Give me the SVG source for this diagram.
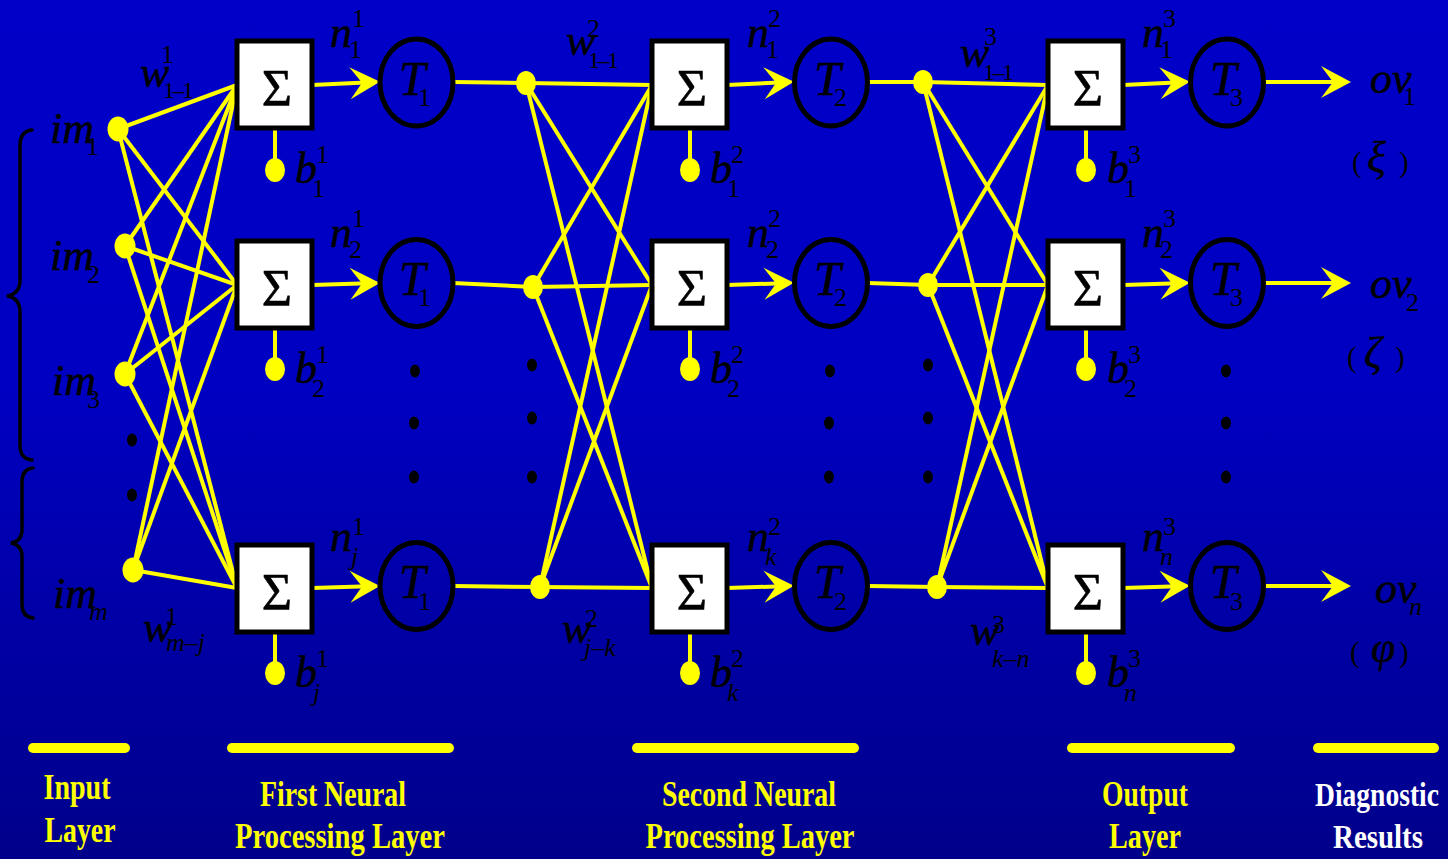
<svg xmlns="http://www.w3.org/2000/svg" width="1448" height="859" viewBox="0 0 1448 859">
  <defs>
    <linearGradient id="bg" x1="0" y1="0" x2="0" y2="1">
      <stop offset="0" stop-color="#0000C8"/>
      <stop offset="0.45" stop-color="#0000C2"/>
      <stop offset="1" stop-color="#00008A"/>
    </linearGradient>
    <marker id="arr" markerUnits="userSpaceOnUse" markerWidth="34" markerHeight="34" viewBox="0 0 34 34" refX="29" refY="17" orient="auto">
      <path d="M33 17 L3 1 L15 17 L3 33 Z" fill="#FFFF00"/>
    </marker>
    <style>
      .w { stroke: #FFFF00; stroke-width: 4; fill: none; }
      .box { fill: #FFFFFF; stroke: #000; stroke-width: 5; }
      .neu { fill: none; stroke: #000; stroke-width: 5; }
      .yd { fill: #FFFF00; }
      .kd { fill: #000; }
      .brace { fill: none; stroke: #000; stroke-width: 3.5; stroke-linecap: round; }
      .bar { stroke: #FFFF00; stroke-width: 10; stroke-linecap: round; }
      text { font-family: "Liberation Serif", "Times New Roman", serif; fill: #000; }
      .v { font-style: italic; font-size: 44px; stroke: #000; stroke-width: 0.5; }
      .t { font-style: italic; font-size: 48px; stroke: #000; stroke-width: 0.5; }
      .d { font-style: normal; font-size: 26px; stroke: none; }
      .dd { font-style: normal; font-size: 24px; letter-spacing: -2.5px; stroke: none; }
      .l { font-style: italic; font-size: 26px; stroke: none; }
      .sig { font-size: 52px; text-anchor: middle; stroke: #000; stroke-width: 0.6; }
      .p { font-size: 29px; }
      .g { font-style: italic; font-size: 44px; stroke: #000; stroke-width: 0.4; }
      .lab { font-weight: bold; font-size: 35px; fill: #FFFF00; text-anchor: middle; }
      .res { font-weight: bold; font-size: 34px; fill: #FFFFFF; text-anchor: middle; }
    </style>
  </defs>

  <rect x="0" y="0" width="1448" height="859" fill="url(#bg)"/>

  <!-- connectors -->
  <g id="connectors">
    <!-- input layer to first layer summers -->
    <line class="w" x1="118" y1="129" x2="237" y2="85"/>
    <line class="w" x1="118" y1="129" x2="237" y2="285"/>
    <line class="w" x1="118" y1="129" x2="237" y2="588"/>
    <line class="w" x1="125" y1="246" x2="237" y2="85"/>
    <line class="w" x1="125" y1="246" x2="237" y2="285"/>
    <line class="w" x1="125" y1="246" x2="237" y2="588"/>
    <line class="w" x1="125" y1="374" x2="237" y2="85"/>
    <line class="w" x1="125" y1="374" x2="237" y2="285"/>
    <line class="w" x1="125" y1="374" x2="237" y2="588"/>
    <line class="w" x1="133" y1="570" x2="237" y2="85"/>
    <line class="w" x1="133" y1="570" x2="237" y2="285"/>
    <line class="w" x1="133" y1="570" x2="237" y2="588"/>

    <!-- first layer outputs to second layer nodes -->
    <line class="w" x1="453" y1="82" x2="526" y2="83"/>
    <line class="w" x1="453" y1="283" x2="533" y2="287"/>
    <line class="w" x1="453" y1="586" x2="540" y2="587"/>
    <line class="w" x1="526" y1="83" x2="652" y2="85"/>
    <line class="w" x1="526" y1="83" x2="652" y2="285"/>
    <line class="w" x1="526" y1="83" x2="652" y2="588"/>
    <line class="w" x1="533" y1="287" x2="652" y2="85"/>
    <line class="w" x1="533" y1="287" x2="652" y2="285"/>
    <line class="w" x1="533" y1="287" x2="652" y2="588"/>
    <line class="w" x1="540" y1="587" x2="652" y2="85"/>
    <line class="w" x1="540" y1="587" x2="652" y2="285"/>
    <line class="w" x1="540" y1="587" x2="652" y2="588"/>

    <!-- second layer outputs to output layer nodes -->
    <line class="w" x1="868" y1="82" x2="923" y2="82"/>
    <line class="w" x1="868" y1="283" x2="928" y2="285"/>
    <line class="w" x1="868" y1="586" x2="937" y2="587"/>
    <line class="w" x1="923" y1="82" x2="1048" y2="85"/>
    <line class="w" x1="923" y1="82" x2="1048" y2="285"/>
    <line class="w" x1="923" y1="82" x2="1048" y2="588"/>
    <line class="w" x1="928" y1="285" x2="1048" y2="85"/>
    <line class="w" x1="928" y1="285" x2="1048" y2="285"/>
    <line class="w" x1="928" y1="285" x2="1048" y2="588"/>
    <line class="w" x1="937" y1="587" x2="1048" y2="85"/>
    <line class="w" x1="937" y1="587" x2="1048" y2="285"/>
    <line class="w" x1="937" y1="587" x2="1048" y2="588"/>

    <!-- summer to transfer function arrows -->
    <line class="w" x1="312" y1="85" x2="376" y2="82" marker-end="url(#arr)"/>
    <line class="w" x1="312" y1="285" x2="376" y2="283" marker-end="url(#arr)"/>
    <line class="w" x1="312" y1="588" x2="376" y2="586" marker-end="url(#arr)"/>
    <line class="w" x1="727" y1="85" x2="790" y2="82" marker-end="url(#arr)"/>
    <line class="w" x1="727" y1="285" x2="790" y2="283" marker-end="url(#arr)"/>
    <line class="w" x1="727" y1="588" x2="790" y2="586" marker-end="url(#arr)"/>
    <line class="w" x1="1123" y1="85" x2="1186" y2="82" marker-end="url(#arr)"/>
    <line class="w" x1="1123" y1="285" x2="1186" y2="283" marker-end="url(#arr)"/>
    <line class="w" x1="1123" y1="588" x2="1186" y2="586" marker-end="url(#arr)"/>

    <!-- network outputs -->
    <line class="w" x1="1264" y1="82" x2="1347" y2="82" marker-end="url(#arr)"/>
    <line class="w" x1="1264" y1="283" x2="1347" y2="283" marker-end="url(#arr)"/>
    <line class="w" x1="1264" y1="586" x2="1347" y2="586" marker-end="url(#arr)"/>

    <!-- bias inputs -->
    <line class="w" x1="275" y1="128" x2="275" y2="165"/>
    <line class="w" x1="275" y1="328" x2="275" y2="364"/>
    <line class="w" x1="275" y1="632" x2="275" y2="668"/>
    <line class="w" x1="690" y1="128" x2="690" y2="165"/>
    <line class="w" x1="690" y1="328" x2="690" y2="364"/>
    <line class="w" x1="690" y1="632" x2="690" y2="668"/>
    <line class="w" x1="1086" y1="128" x2="1086" y2="165"/>
    <line class="w" x1="1086" y1="328" x2="1086" y2="364"/>
    <line class="w" x1="1086" y1="632" x2="1086" y2="668"/>
  </g>

  <!-- input layer -->
  <g id="input-layer">
    <path class="brace" d="M32 130 Q20 131 20 146 L20 280 Q20 294 7 296 Q20 298 20 312 L20 445 Q20 459 32 460"/>
    <path class="brace" d="M33 468 Q22 469 22 482 L22 530 Q22 541 11 543 Q22 545 22 556 L22 604 Q22 617 33 618"/>
    <ellipse class="yd" cx="118" cy="129" rx="10.5" ry="12.5"/>
    <ellipse class="yd" cx="125" cy="246" rx="10.5" ry="12.5"/>
    <ellipse class="yd" cx="125" cy="374" rx="10.5" ry="12.5"/>
    <ellipse class="yd" cx="133" cy="570" rx="10.5" ry="12.5"/>
    <ellipse class="kd" cx="132" cy="440" rx="5" ry="6.5"/>
    <ellipse class="kd" cx="132" cy="495" rx="5" ry="6.5"/>
    <text class="v" x="50" y="143">im<tspan class="d" x="86" y="155">1</tspan></text>
    <text class="v" x="50" y="270">im<tspan class="d" x="87" y="283">2</tspan></text>
    <text class="v" x="52" y="395">im<tspan class="d" x="87" y="408">3</tspan></text>
    <text class="v" x="53" y="608">im<tspan class="l" x="89" y="620">m</tspan></text>
  </g>

  <!-- first neural processing layer -->
  <g id="layer1-weights">
    <text class="v" x="140" y="87">w<tspan class="d" x="161" y="63">1</tspan><tspan class="dd" x="163" y="98">1–1</tspan></text>
    <text class="v" x="143" y="642">w<tspan class="d" x="165" y="625">1</tspan><tspan class="l" x="166" y="651">m–j</tspan></text>
  </g>
  <g id="layer1-node1">
    <rect class="box" x="237" y="41" width="75" height="87"/>
    <text class="sig" x="277" y="106">Σ</text>
    <ellipse class="yd" cx="275" cy="170" rx="10" ry="12"/>
    <text class="v" x="295" y="183">b<tspan class="d" x="316" y="163">1</tspan><tspan class="d" x="312" y="197">1</tspan></text>
    <text class="v" x="330" y="47">n<tspan class="d" x="352" y="27">1</tspan><tspan class="d" x="349" y="58">1</tspan></text>
    <ellipse class="neu" cx="416.5" cy="82.5" rx="36.5" ry="43.5"/>
    <text class="t" x="399" y="95">T<tspan class="d" x="418" y="106">1</tspan></text>
  </g>
  <g id="layer1-node2">
    <rect class="box" x="237" y="241" width="75" height="87"/>
    <text class="sig" x="277" y="306">Σ</text>
    <ellipse class="yd" cx="275" cy="369" rx="10" ry="12"/>
    <text class="v" x="295" y="383">b<tspan class="d" x="316" y="363">1</tspan><tspan class="d" x="312" y="397">2</tspan></text>
    <text class="v" x="330" y="247">n<tspan class="d" x="352" y="227">1</tspan><tspan class="d" x="349" y="258">2</tspan></text>
    <ellipse class="neu" cx="416.5" cy="283" rx="36.5" ry="43.5"/>
    <text class="t" x="399" y="295">T<tspan class="d" x="418" y="306">1</tspan></text>
  </g>
  <g id="layer1-ellipsis">
    <ellipse class="kd" cx="415" cy="371" rx="5" ry="6.5"/>
    <ellipse class="kd" cx="414" cy="423" rx="5" ry="6.5"/>
    <ellipse class="kd" cx="414" cy="477" rx="5" ry="6.5"/>
  </g>
  <g id="layer1-nodej">
    <rect class="box" x="237" y="545" width="75" height="87"/>
    <text class="sig" x="277" y="610">Σ</text>
    <ellipse class="yd" cx="275" cy="673" rx="10" ry="12"/>
    <text class="v" x="295" y="687">b<tspan class="d" x="316" y="667">1</tspan><tspan class="l" x="313" y="701">j</tspan></text>
    <text class="v" x="330" y="551">n<tspan class="d" x="352" y="535">1</tspan><tspan class="l" x="351" y="565">j</tspan></text>
    <ellipse class="neu" cx="416.5" cy="586" rx="36.5" ry="43.5"/>
    <text class="t" x="399" y="598">T<tspan class="d" x="418" y="610">1</tspan></text>
  </g>

  <!-- second neural processing layer -->
  <g id="layer2-inputs">
    <ellipse class="yd" cx="526" cy="83" rx="10" ry="12"/>
    <ellipse class="yd" cx="533" cy="287" rx="10" ry="12"/>
    <ellipse class="yd" cx="540" cy="587" rx="10" ry="12"/>
    <ellipse class="kd" cx="532" cy="365" rx="5" ry="6.5"/>
    <ellipse class="kd" cx="532" cy="418" rx="5" ry="6.5"/>
    <ellipse class="kd" cx="532" cy="477" rx="5" ry="6.5"/>
    <text class="v" x="566" y="55">w<tspan class="d" x="587" y="37">2</tspan><tspan class="dd" x="588" y="68">1–1</tspan></text>
    <text class="v" x="562" y="643">w<tspan class="d" x="585" y="627">2</tspan><tspan class="l" x="584" y="656">j–k</tspan></text>
  </g>
  <g id="layer2-node1">
    <rect class="box" x="652" y="41" width="75" height="87"/>
    <text class="sig" x="692" y="106">Σ</text>
    <ellipse class="yd" cx="690" cy="170" rx="10" ry="12"/>
    <text class="v" x="710" y="183">b<tspan class="d" x="731" y="163">2</tspan><tspan class="d" x="727" y="197">1</tspan></text>
    <text class="v" x="747" y="47">n<tspan class="d" x="768" y="27">2</tspan><tspan class="d" x="766" y="58">1</tspan></text>
    <ellipse class="neu" cx="831" cy="82.5" rx="36.5" ry="43.5"/>
    <text class="t" x="814" y="95">T<tspan class="d" x="834" y="106">2</tspan></text>
  </g>
  <g id="layer2-node2">
    <rect class="box" x="652" y="241" width="75" height="87"/>
    <text class="sig" x="692" y="306">Σ</text>
    <ellipse class="yd" cx="690" cy="369" rx="10" ry="12"/>
    <text class="v" x="710" y="383">b<tspan class="d" x="731" y="363">2</tspan><tspan class="d" x="727" y="397">2</tspan></text>
    <text class="v" x="747" y="247">n<tspan class="d" x="768" y="227">2</tspan><tspan class="d" x="766" y="258">2</tspan></text>
    <ellipse class="neu" cx="831" cy="283" rx="36.5" ry="43.5"/>
    <text class="t" x="814" y="295">T<tspan class="d" x="834" y="306">2</tspan></text>
  </g>
  <g id="layer2-ellipsis">
    <ellipse class="kd" cx="830" cy="371" rx="5" ry="6.5"/>
    <ellipse class="kd" cx="829" cy="423" rx="5" ry="6.5"/>
    <ellipse class="kd" cx="829" cy="477" rx="5" ry="6.5"/>
  </g>
  <g id="layer2-nodek">
    <rect class="box" x="652" y="545" width="75" height="87"/>
    <text class="sig" x="692" y="610">Σ</text>
    <ellipse class="yd" cx="690" cy="673" rx="10" ry="12"/>
    <text class="v" x="710" y="687">b<tspan class="d" x="731" y="667">2</tspan><tspan class="l" x="727" y="701">k</tspan></text>
    <text class="v" x="747" y="551">n<tspan class="d" x="768" y="535">2</tspan><tspan class="l" x="765" y="565">k</tspan></text>
    <ellipse class="neu" cx="831" cy="586" rx="36.5" ry="43.5"/>
    <text class="t" x="814" y="598">T<tspan class="d" x="834" y="610">2</tspan></text>
  </g>

  <!-- output layer -->
  <g id="layer3-inputs">
    <ellipse class="yd" cx="923" cy="82" rx="10" ry="12"/>
    <ellipse class="yd" cx="928" cy="285" rx="10" ry="12"/>
    <ellipse class="yd" cx="937" cy="587" rx="10" ry="12"/>
    <ellipse class="kd" cx="928" cy="365" rx="5" ry="6.5"/>
    <ellipse class="kd" cx="928" cy="418" rx="5" ry="6.5"/>
    <ellipse class="kd" cx="928" cy="477" rx="5" ry="6.5"/>
    <text class="v" x="960" y="67">w<tspan class="d" x="984" y="45">3</tspan><tspan class="dd" x="983" y="80">1–1</tspan></text>
    <text class="v" x="970" y="645">w<tspan class="d" x="992" y="633">3</tspan><tspan class="l" x="992" y="667">k–n</tspan></text>
  </g>
  <g id="layer3-node1">
    <rect class="box" x="1048" y="41" width="75" height="87"/>
    <text class="sig" x="1088" y="106">Σ</text>
    <ellipse class="yd" cx="1086" cy="170" rx="10" ry="12"/>
    <text class="v" x="1107" y="183">b<tspan class="d" x="1128" y="163">3</tspan><tspan class="d" x="1124" y="197">1</tspan></text>
    <text class="v" x="1142" y="47">n<tspan class="d" x="1163" y="27">3</tspan><tspan class="d" x="1160" y="58">1</tspan></text>
    <ellipse class="neu" cx="1227" cy="82.5" rx="36.5" ry="43.5"/>
    <text class="t" x="1210" y="95">T<tspan class="d" x="1230" y="106">3</tspan></text>
  </g>
  <g id="layer3-node2">
    <rect class="box" x="1048" y="241" width="75" height="87"/>
    <text class="sig" x="1088" y="306">Σ</text>
    <ellipse class="yd" cx="1086" cy="369" rx="10" ry="12"/>
    <text class="v" x="1107" y="383">b<tspan class="d" x="1128" y="363">3</tspan><tspan class="d" x="1124" y="397">2</tspan></text>
    <text class="v" x="1142" y="247">n<tspan class="d" x="1163" y="227">3</tspan><tspan class="d" x="1160" y="258">2</tspan></text>
    <ellipse class="neu" cx="1227" cy="283" rx="36.5" ry="43.5"/>
    <text class="t" x="1210" y="295">T<tspan class="d" x="1230" y="306">3</tspan></text>
  </g>
  <g id="layer3-ellipsis">
    <ellipse class="kd" cx="1226" cy="371" rx="5" ry="6.5"/>
    <ellipse class="kd" cx="1226" cy="423" rx="5" ry="6.5"/>
    <ellipse class="kd" cx="1226" cy="477" rx="5" ry="6.5"/>
  </g>
  <g id="layer3-noden">
    <rect class="box" x="1048" y="545" width="75" height="87"/>
    <text class="sig" x="1088" y="610">Σ</text>
    <ellipse class="yd" cx="1086" cy="673" rx="10" ry="12"/>
    <text class="v" x="1107" y="687">b<tspan class="d" x="1128" y="667">3</tspan><tspan class="l" x="1124" y="701">n</tspan></text>
    <text class="v" x="1142" y="551">n<tspan class="d" x="1163" y="535">3</tspan><tspan class="l" x="1160" y="565">n</tspan></text>
    <ellipse class="neu" cx="1227" cy="586" rx="36.5" ry="43.5"/>
    <text class="t" x="1210" y="598">T<tspan class="d" x="1230" y="610">3</tspan></text>
  </g>

  <!-- diagnostic results -->
  <g id="result1">
    <text class="v" x="1370" y="93">ov<tspan class="d" x="1403" y="105">1</tspan></text>
    <text class="p" x="1352" y="172">(<tspan class="g" x="1367" y="172">ξ</tspan><tspan x="1399" y="172">)</tspan></text>
  </g>
  <g id="result2">
    <text class="v" x="1370" y="298">ov<tspan class="d" x="1406" y="311">2</tspan></text>
    <text class="p" x="1347" y="367">(<tspan class="g" x="1364" y="367">ζ</tspan><tspan x="1395" y="367">)</tspan></text>
  </g>
  <g id="resultn">
    <text class="v" x="1375" y="603">ov<tspan class="l" x="1409" y="615">n</tspan></text>
    <text class="p" x="1350" y="662">(<tspan class="g" x="1371" y="662">φ</tspan><tspan x="1399" y="662">)</tspan></text>
  </g>

  <!-- layer captions -->
  <g id="captions">
    <line class="bar" x1="33" y1="748" x2="125" y2="748"/>
    <line class="bar" x1="232" y1="748" x2="449" y2="748"/>
    <line class="bar" x1="637" y1="748" x2="854" y2="748"/>
    <line class="bar" x1="1072" y1="748" x2="1230" y2="748"/>
    <line class="bar" x1="1318" y1="748" x2="1434" y2="748"/>
    <text class="lab" x="77" y="799" textLength="67" lengthAdjust="spacingAndGlyphs">Input</text>
    <text class="lab" x="80" y="842" textLength="71" lengthAdjust="spacingAndGlyphs">Layer</text>
    <text class="lab" x="333" y="806" textLength="146" lengthAdjust="spacingAndGlyphs">First Neural</text>
    <text class="lab" x="340" y="848" textLength="210" lengthAdjust="spacingAndGlyphs">Processing Layer</text>
    <text class="lab" x="749" y="806" textLength="174" lengthAdjust="spacingAndGlyphs">Second Neural</text>
    <text class="lab" x="750" y="848" textLength="209" lengthAdjust="spacingAndGlyphs">Processing Layer</text>
    <text class="lab" x="1145" y="806" textLength="86" lengthAdjust="spacingAndGlyphs">Output</text>
    <text class="lab" x="1145" y="848" textLength="72" lengthAdjust="spacingAndGlyphs">Layer</text>
    <text class="res" x="1377" y="806" textLength="124" lengthAdjust="spacingAndGlyphs">Diagnostic</text>
    <text class="res" x="1378" y="848" textLength="90" lengthAdjust="spacingAndGlyphs">Results</text>
  </g>
</svg>
